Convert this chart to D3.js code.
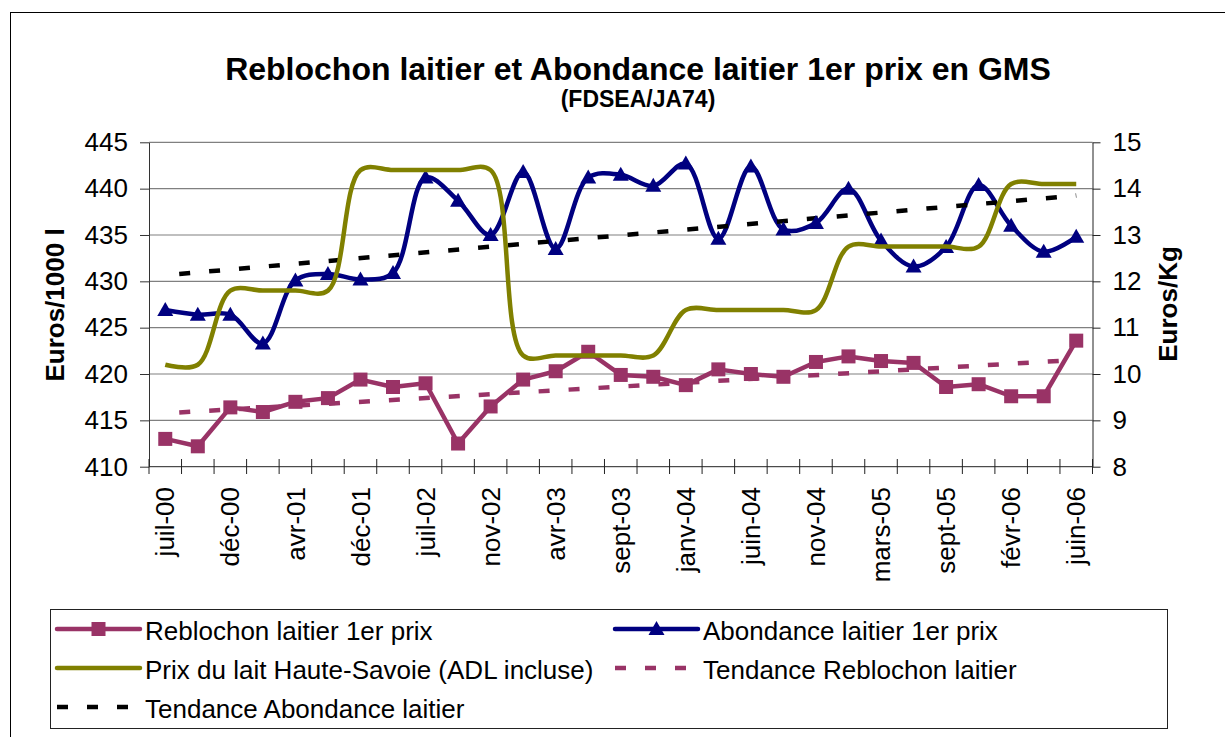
<!DOCTYPE html>
<html>
<head>
<meta charset="utf-8">
<script src="https://cdn.jsdelivr.net/npm/d3@7"></script>
<style>
body { margin: 0; background: #fff; }
text { font-family: Arial, "Liberation Sans", sans-serif; }
</style>
</head>
<body>
<svg id="chart" width="1225" height="737"></svg>
<script>
// category labels (one every 2 points)
var labels = ["juil-00", "déc-00", "avr-01", "déc-01", "juil-02", "nov-02", "avr-03", "sept-03",
  "janv-04", "juin-04", "nov-04", "mars-05", "sept-05", "févr-06", "juin-06"];

// Euros/1000 l (left axis)
var reblochon = [413.0, 412.2, 416.4, 415.9, 417.0, 417.4, 419.4, 418.6, 419.0, 412.5,
  416.5, 419.4, 420.3, 422.4, 419.9, 419.7, 418.8, 420.5, 420.0, 419.7,
  421.3, 421.9, 421.4, 421.2, 418.6, 418.9, 417.6, 417.6, 423.6];
var abondance = [426.9, 426.4, 426.4, 423.3, 430.1, 430.8, 430.2, 430.9, 441.2, 438.7,
  435.0, 441.8, 433.5, 441.2, 441.5, 440.3, 442.7, 434.6, 442.4, 435.6,
  436.3, 440.0, 434.4, 431.6, 433.7, 440.4, 436.0, 433.2, 434.8];
// Euros/Kg (right axis)
var lait = [10.2, 10.2, 11.8, 11.8, 11.8, 11.8, 14.4, 14.4, 14.4, 14.4,
  14.4, 10.4, 10.4, 10.4, 10.4, 10.4, 11.38, 11.38, 11.38, 11.38,
  11.38, 12.75, 12.75, 12.75, 12.75, 12.75, 14.1, 14.1, 14.1];

var leftTicks = [410, 415, 420, 425, 430, 435, 440, 445];
var rightTicks = [8, 9, 10, 11, 12, 13, 14, 15];

var colReb = "#993366", colAbo = "#000080", colLait = "#808000";

var svg = d3.select("#chart");

// chart area border
svg.append("rect").attr("x", 10.5).attr("y", 12.5).attr("width", 1300).attr("height", 800)
  .attr("fill", "#fff").attr("stroke", "#000");

var n = reblochon.length;
var x = d3.scaleBand().domain(d3.range(n)).range([149, 1092.5]);
var cx = function(i) { return x(i) + x.bandwidth() / 2; };
var yL = d3.scaleLinear().domain([410, 445]).range([466.7, 142.3]);
var yR = d3.scaleLinear().domain([8, 15]).range([466.7, 142.3]);

// title
svg.append("text").attr("x", 638).attr("y", 80).attr("text-anchor", "middle")
  .attr("font-size", 32).attr("font-weight", "bold")
  .text("Reblochon laitier et Abondance laitier 1er prix en GMS");
svg.append("text").attr("x", 638).attr("y", 107).attr("text-anchor", "middle")
  .attr("font-size", 23).attr("font-weight", "bold")
  .text("(FDSEA/JA74)");

// gridlines
svg.append("g").selectAll("line")
  .data(leftTicks.slice(1))
  .enter().append("line")
  .attr("x1", 149).attr("x2", 1092.5)
  .attr("y1", function(d) { return yL(d); }).attr("y2", function(d) { return yL(d); })
  .attr("stroke", "#808080").attr("stroke-width", 1.2);

// left axis
var gL = svg.append("g").attr("transform", "translate(149,0)")
  .call(d3.axisLeft(yL).tickValues(leftTicks).tickFormat(d3.format("d"))
    .tickSize(9).tickSizeOuter(0).tickPadding(12));
gL.selectAll("text").attr("font-size", 26).attr("fill", "#000").attr("font-family", null);
gL.selectAll("line, path").attr("stroke", "#333");

// right axis
var gR = svg.append("g").attr("transform", "translate(1092.5,0)")
  .call(d3.axisRight(yR).tickValues(rightTicks).tickFormat(d3.format("d"))
    .tickSize(8).tickSizeOuter(0).tickPadding(12));
gR.selectAll("text").attr("font-size", 26).attr("fill", "#000").attr("font-family", null);
gR.selectAll("line, path").attr("stroke", "#222");

// bottom axis: ticks between categories, labels every 2 points
var gB = svg.append("g");
gB.append("line").attr("x1", 149).attr("x2", 1092.5).attr("y1", 466.7).attr("y2", 466.7)
  .attr("stroke", "#222");
gB.selectAll(".tk").data(d3.range(n + 1)).enter().append("line")
  .attr("x1", function(d) { return d < n ? x(d) : 1092.5; })
  .attr("x2", function(d) { return d < n ? x(d) : 1092.5; })
  .attr("y1", 459).attr("y2", 474).attr("stroke", "#222");
gB.selectAll(".lbl").data(labels).enter().append("text")
  .attr("transform", function(d, i) { return "translate(" + cx(i * 2) + ",487) rotate(-90)"; })
  .attr("text-anchor", "end").attr("dy", "0.35em").attr("font-size", 26)
  .text(function(d) { return d; });

// axis titles
svg.append("text").attr("transform", "translate(55,305) rotate(-90)")
  .attr("text-anchor", "middle").attr("dy", "0.35em")
  .attr("font-size", 26).attr("font-weight", "bold").text("Euros/1000 l");
svg.append("text").attr("transform", "translate(1168,304) rotate(-90)")
  .attr("text-anchor", "middle").attr("dy", "0.35em")
  .attr("font-size", 26).attr("font-weight", "bold").text("Euros/Kg");

// linear trend (least squares, as Excel does)
function trend(vals) {
  var xs = d3.range(vals.length);
  var mx = d3.mean(xs), my = d3.mean(vals);
  var sxy = d3.sum(xs, function(i) { return (i - mx) * (vals[i] - my); });
  var sxx = d3.sum(xs, function(i) { return (i - mx) * (i - mx); });
  var b = sxy / sxx, a = my - b * mx;
  return [[0, a], [vals.length - 1, a + b * (vals.length - 1)]];
}

var smooth = d3.curveCatmullRom.alpha(0.5);
var lineL = d3.line().x(function(d, i) { return cx(i); }).y(function(d) { return yL(d); });
var lineLs = d3.line().x(function(d, i) { return cx(i); }).y(function(d) { return yL(d); }).curve(smooth);
var lineR = d3.line().x(function(d, i) { return cx(i); }).y(function(d) { return yR(d); }).curve(smooth);
var lineT = d3.line().x(function(d) { return cx(d[0]); }).y(function(d) { return yL(d[1]); });

var plot = svg.append("g");

// Reblochon
plot.append("path").datum(reblochon).attr("d", lineL)
  .attr("fill", "none").attr("stroke", colReb).attr("stroke-width", 4.5).attr("stroke-linejoin", "round");
plot.append("path").datum(trend(reblochon)).attr("d", lineT)
  .attr("fill", "none").attr("stroke", colReb).attr("stroke-width", 4.5)
  .attr("stroke-dasharray", "11,19").attr("stroke-dashoffset", 16);
plot.append("g").selectAll("rect").data(reblochon).enter().append("rect")
  .attr("x", function(d, i) { return cx(i) - 7; })
  .attr("y", function(d) { return yL(d) - 7; })
  .attr("width", 14).attr("height", 14).attr("fill", colReb);

// Abondance
plot.append("path").datum(abondance).attr("d", lineLs)
  .attr("fill", "none").attr("stroke", colAbo).attr("stroke-width", 4.5);
plot.append("path").datum(trend(abondance)).attr("d", lineT)
  .attr("fill", "none").attr("stroke", "#000").attr("stroke-width", 4.5)
  .attr("stroke-dasharray", "11,19").attr("stroke-dashoffset", 16);
var tri = "M0,-8L8,6L-8,6Z";
plot.append("g").selectAll("path").data(abondance).enter().append("path")
  .attr("d", tri)
  .attr("transform", function(d, i) { return "translate(" + cx(i) + "," + yL(d) + ")"; })
  .attr("fill", colAbo);

// Prix du lait (right axis)
plot.append("path").datum(lait).attr("d", lineR)
  .attr("fill", "none").attr("stroke", colLait).attr("stroke-width", 4.5);

// legend
var legend = svg.append("g");
legend.append("rect").attr("x", 50.5).attr("y", 609.5).attr("width", 1117).attr("height", 119)
  .attr("fill", "#fff").attr("stroke", "#222");

var items = [
  {name: "Reblochon laitier 1er prix", color: colReb, marker: "square", col: 0, row: 0},
  {name: "Abondance laitier 1er prix", color: colAbo, marker: "tri", col: 1, row: 0},
  {name: "Prix du lait Haute-Savoie (ADL incluse)", color: colLait, col: 0, row: 1},
  {name: "Tendance Reblochon laitier", color: colReb, dash: true, col: 1, row: 1},
  {name: "Tendance Abondance laitier", color: "#000", dash: true, col: 0, row: 2}
];
var colX = [57, 615], rowY = [629, 668, 707];

var li = legend.selectAll(".li").data(items).enter().append("g")
  .attr("transform", function(d) { return "translate(" + colX[d.col] + "," + rowY[d.row] + ")"; });
li.append("line").attr("x1", 0).attr("x2", 83).attr("y1", 0).attr("y2", 0)
  .attr("stroke", function(d) { return d.color; }).attr("stroke-width", 4.5)
  .attr("stroke-linecap", function(d) { return d.dash ? "butt" : "round"; })
  .attr("stroke-dasharray", function(d) { return d.dash ? "11,19" : null; });
li.filter(function(d) { return d.marker == "square"; }).append("rect")
  .attr("x", 34.5).attr("y", -7).attr("width", 14).attr("height", 14).attr("fill", colReb);
li.filter(function(d) { return d.marker == "tri"; }).append("path")
  .attr("d", tri).attr("transform", "translate(41.5,0)").attr("fill", colAbo);
li.append("text").attr("x", 88).attr("y", 2).attr("dy", "0.35em").attr("font-size", 26)
  .text(function(d) { return d.name; });
</script>
</body>
</html>
